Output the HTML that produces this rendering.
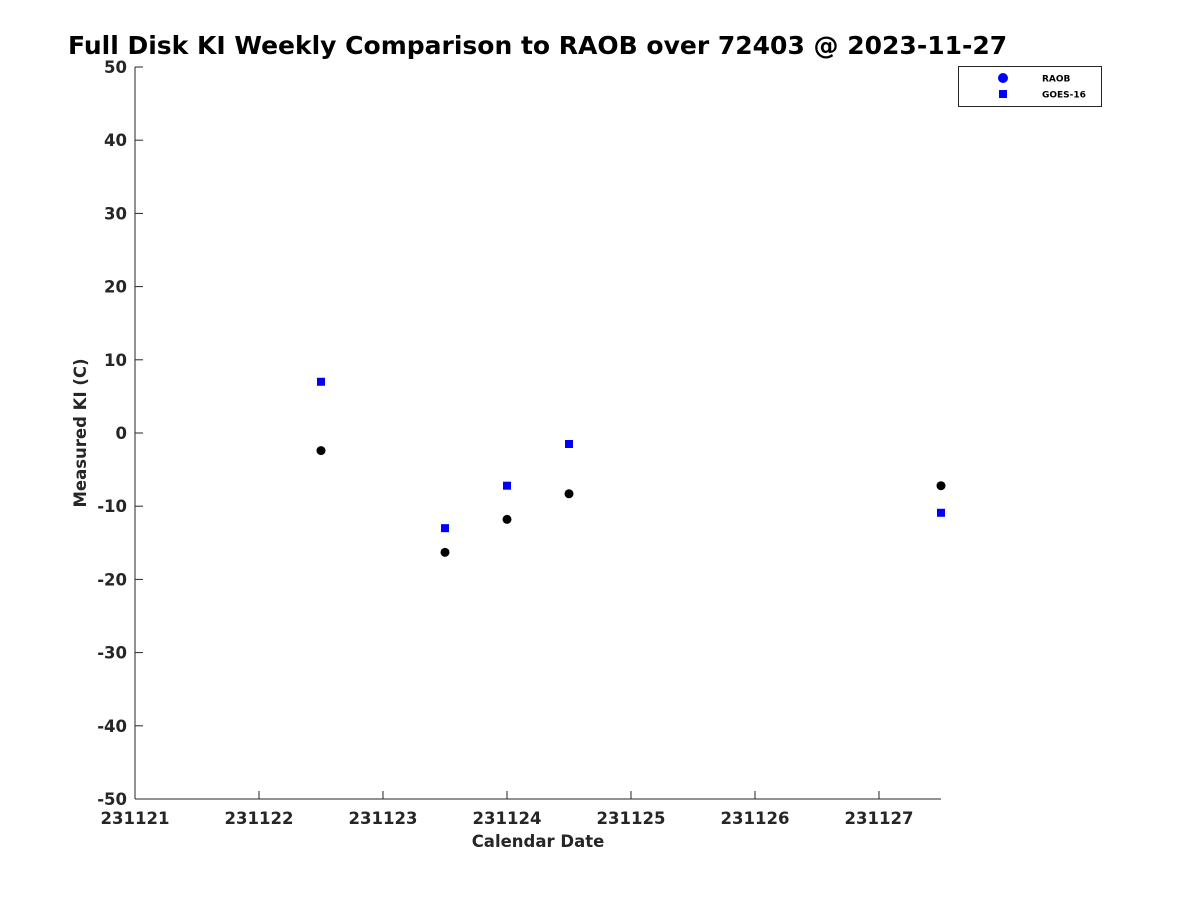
<!DOCTYPE html>
<html><head><meta charset="utf-8"><style>
body{margin:0;background:#fff;width:1200px;height:900px;overflow:hidden}
svg{font-family:"DejaVu Sans","Liberation Sans",sans-serif;font-weight:bold}
</style></head><body>
<svg id="chart" width="1200" height="900" xmlns="http://www.w3.org/2000/svg">
<text x="68" y="54" font-size="25" fill="#000">Full Disk KI Weekly Comparison to RAOB over 72403 @ 2023-11-27</text>
<g id="axes"></g>
<g id="marks"></g>
<text x="538" y="847" font-size="16.5" fill="#262626" text-anchor="middle">Calendar Date</text>
<text transform="translate(86,433) rotate(-90)" font-size="16.5" fill="#262626" text-anchor="middle">Measured KI (C)</text>
<g>
<rect x="958.5" y="66.5" width="143" height="40" fill="#fff" stroke="#262626"/>
<circle cx="1003" cy="78" r="5" fill="#0000ff"/>
<text x="1042" y="81.5" font-size="9" fill="#000">RAOB</text>
<rect x="999" y="90" width="8" height="8" fill="#0000ff"/>
<text x="1042" y="97.5" font-size="9" fill="#000">GOES-16</text>
</g>
</svg>
<script>
const xTicks=[231121,231122,231123,231124,231125,231126,231127];
const yTicks=[50,40,30,20,10,0,-10,-20,-30,-40,-50];
const raobDates=[231122.5,231123.5,231124.0,231124.5,231127.5];
const raobValues=[-2.4,-16.3,-11.8,-8.3,-7.2];
const goesDates=[231122.5,231123.5,231124.0,231124.5,231127.5];
const goesValues=[7.0,-13.0,-7.2,-1.5,-10.9];
const NS="http://www.w3.org/2000/svg";
const xMin=231121,xMax=231127.5,L=135,R=941,T=67,B=799;
const xs=v=>L+(v-xMin)/(xMax-xMin)*(R-L);
const ys=v=>B-(v+50)/100*(B-T);
function mk(tag,attrs,parent){const e=document.createElementNS(NS,tag);for(const k in attrs)e.setAttribute(k,attrs[k]);parent.appendChild(e);return e;}
const ax=document.getElementById('axes'),mg=document.getElementById('marks');
let l=mk('line',{x1:L,y1:T,x2:L,y2:B,stroke:'#262626'},ax);


l=mk('line',{x1:L,y1:B,x2:R,y2:B,stroke:'#262626'},ax);


xTicks.forEach(v=>{const x=xs(v);
 const t=mk('line',{x1:x,y1:B,x2:x,y2:B-8,stroke:'#262626'},ax);
 
 
 const tx=mk('text',{x:x,y:B+25,'font-size':16.5,fill:'#262626','text-anchor':'middle'},ax);tx.textContent=v;
 
 
});
yTicks.forEach(v=>{const y=ys(v);
 const t=mk('line',{x1:L,y1:y,x2:L+8,y2:y,stroke:'#262626'},ax);
 
 
 const tx=mk('text',{x:L-8,y:y+6,'font-size':16.5,fill:'#262626','text-anchor':'end'},ax);tx.textContent=v;
 
 
});
goesDates.forEach((d,i)=>{
 const r=mk('rect',{x:xs(d)-4,y:ys(goesValues[i])-4,width:8,height:8,fill:'#0000ff'},mg);
 
 
});
raobDates.forEach((d,i)=>{
 const c=mk('circle',{cx:xs(d),cy:ys(raobValues[i]),r:4.5,fill:'#000'},mg);
 
 
});
</script>
</body></html>
